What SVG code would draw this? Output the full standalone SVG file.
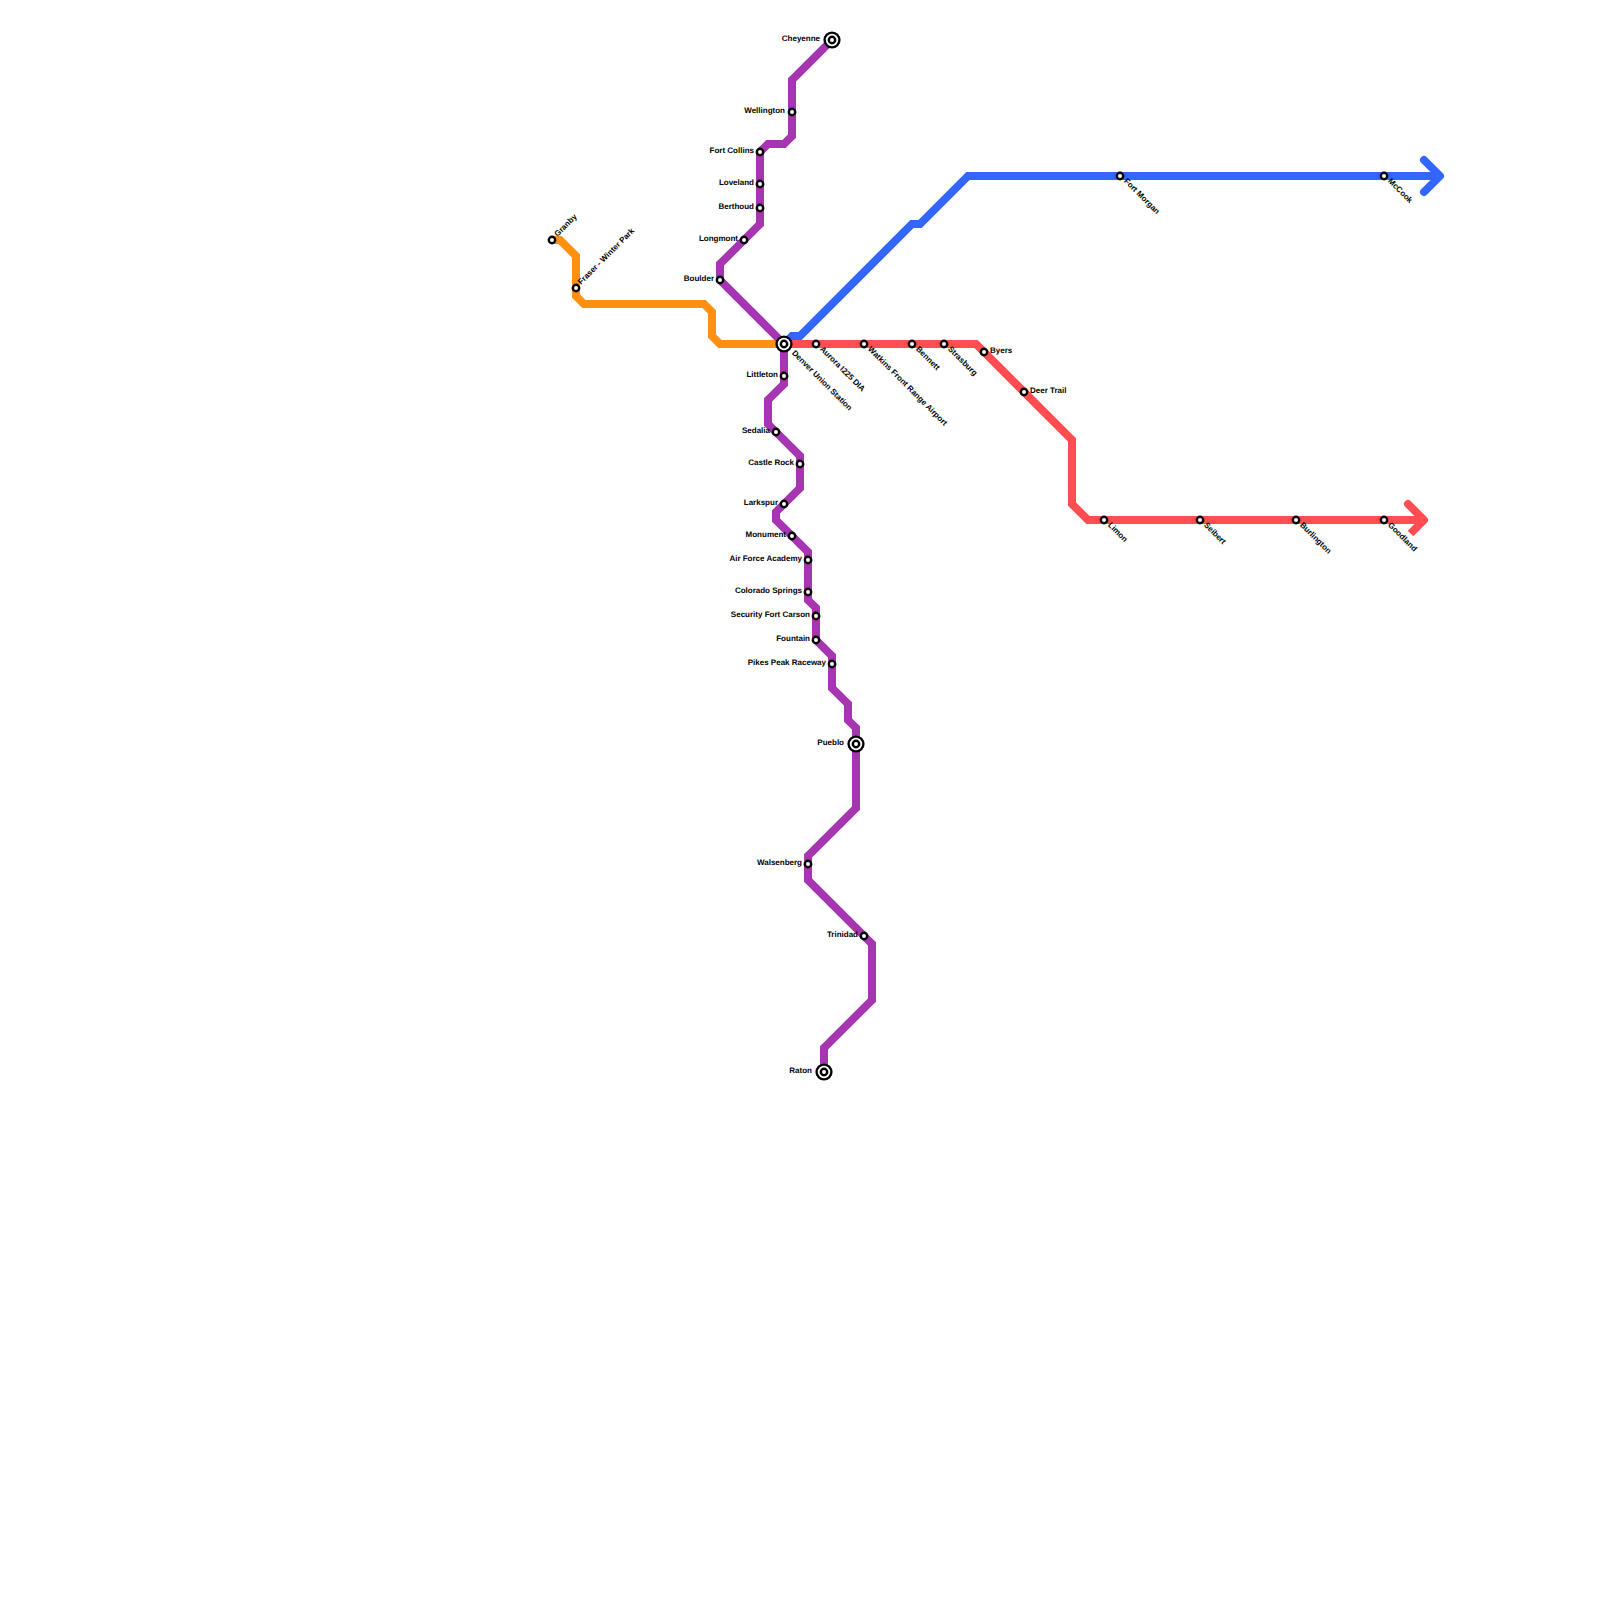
<svg xmlns="http://www.w3.org/2000/svg" width="1600" height="1600" viewBox="0 0 1600 1600">
<style>
text{font-family:"Liberation Sans",Arial,sans-serif;font-size:8px;font-weight:bold;fill:#000;text-rendering:geometricPrecision}
.e{text-anchor:end}
.l{fill:none;stroke-width:8;stroke-linejoin:miter;stroke-linecap:butt}
.a{fill:none;stroke-width:8;stroke-linejoin:round;stroke-linecap:round}
.s{fill:#fff;stroke:#000;stroke-width:2.4}
</style>
<defs>
<circle id="st" class="s" r="3.2"/>
<g id="hub"><circle class="s" r="7.4"/><circle class="s" r="3.2"/></g>
</defs>
<rect width="1600" height="1600" fill="#fff"/>
<g id="connectors">
<path class="l" stroke="#3366ff" d="M784 344L792 336H800L912 224H920L968 176H1436"/>
<path class="a" stroke="#3366ff" d="M1424 160L1440 176L1424 192"/>
<path class="l" stroke="#ff9011" d="M552 240H560L576 256V296L584 304H704L712 312V336L720 344H784"/>
<path class="l" stroke="#a535b0" d="M832 40L792 80V136L784 144H768L760 152V224L720 264V280L784 344"/>
<path class="l" stroke="#a535b0" d="M784 344V384L768 400V424L800 456V488L776 512V520L808 552V600L816 608V640L832 656V688L848 704V720L856 728V808L808 856V880L872 944V1000L824 1048V1072"/>
<path class="l" stroke="#ff4d52" d="M784 344H976L1072 440V504L1088 520H1420"/>
<path class="a" stroke="#ff4d52" d="M1408 504L1424 520"/>
<path class="l" stroke="#ff4d52" d="M1424 520L1410.5 533.5"/>
</g>
<g id="cheyenne"><use href="#hub" x="832" y="40"/><text class="e" x="820" y="41.3">Cheyenne</text></g>
<g id="wellington"><use href="#st" x="792" y="112"/><text class="e" x="785" y="113.3">Wellington</text></g>
<g id="fort-collins"><use href="#st" x="760" y="152"/><text class="e" x="754" y="153.3">Fort Collins</text></g>
<g id="loveland"><use href="#st" x="760" y="184"/><text class="e" x="754" y="185.3">Loveland</text></g>
<g id="berthoud"><use href="#st" x="760" y="208"/><text class="e" x="754" y="209.3">Berthoud</text></g>
<g id="longmont"><use href="#st" x="744" y="240"/><text class="e" x="738" y="241.3">Longmont</text></g>
<g id="boulder"><use href="#st" x="720" y="280"/><text class="e" x="714" y="281.3">Boulder</text></g>
<g id="granby"><use href="#st" x="552" y="240"/><text transform="translate(557.5 237) rotate(-45)">Granby</text></g>
<g id="fraser"><use href="#st" x="576" y="288"/><text transform="translate(581 285) rotate(-45)">Fraser - Winter Park</text></g>
<g id="denver"><use href="#hub" x="784" y="344"/><text transform="translate(791.5 353.5) rotate(45)">Denver Union Station</text></g>
<g id="aurora"><use href="#st" x="816" y="344"/><text transform="translate(819.5 349.5) rotate(45)">Aurora I225 DIA</text></g>
<g id="watkins"><use href="#st" x="864" y="344"/><text transform="translate(867.5 349.5) rotate(45)">Watkins Front Range Airport</text></g>
<g id="bennett"><use href="#st" x="912" y="344"/><text transform="translate(915.5 349.5) rotate(45)">Bennett</text></g>
<g id="strasburg"><use href="#st" x="944" y="344"/><text transform="translate(947.5 349.5) rotate(45)">Strasburg</text></g>
<g id="byers"><use href="#st" x="984" y="352"/><text x="990" y="353.3">Byers</text></g>
<g id="deer-trail"><use href="#st" x="1024" y="392"/><text x="1030" y="393.3">Deer Trail</text></g>
<g id="limon"><use href="#st" x="1104" y="520"/><text transform="translate(1107.5 525.5) rotate(45)">Limon</text></g>
<g id="seibert"><use href="#st" x="1200" y="520"/><text transform="translate(1203.5 525.5) rotate(45)">Seibert</text></g>
<g id="burlington"><use href="#st" x="1296" y="520"/><text transform="translate(1299.5 525.5) rotate(45)">Burlington</text></g>
<g id="goodland"><use href="#st" x="1384" y="520"/><text transform="translate(1387.5 525.5) rotate(45)">Goodland</text></g>
<g id="fort-morgan"><use href="#st" x="1120" y="176"/><text transform="translate(1123.5 181.5) rotate(45)">Fort Morgan</text></g>
<g id="mccook"><use href="#st" x="1384" y="176"/><text transform="translate(1387.5 181.5) rotate(45)">McCook</text></g>
<g id="littleton"><use href="#st" x="784" y="376"/><text class="e" x="778" y="377.3">Littleton</text></g>
<g id="sedalia"><use href="#st" x="776" y="432"/><text class="e" x="770" y="433.3">Sedalia</text></g>
<g id="castle-rock"><use href="#st" x="800" y="464"/><text class="e" x="794" y="465.3">Castle Rock</text></g>
<g id="larkspur"><use href="#st" x="784" y="504"/><text class="e" x="778" y="505.3">Larkspur</text></g>
<g id="monument"><use href="#st" x="792" y="536"/><text class="e" x="786" y="537.3">Monument</text></g>
<g id="air-force-academy"><use href="#st" x="808" y="560"/><text class="e" x="802" y="561.3">Air Force Academy</text></g>
<g id="colorado-springs"><use href="#st" x="808" y="592"/><text class="e" x="802" y="593.3">Colorado Springs</text></g>
<g id="security-fort-carson"><use href="#st" x="816" y="616"/><text class="e" x="810" y="617.3">Security Fort Carson</text></g>
<g id="fountain"><use href="#st" x="816" y="640"/><text class="e" x="810" y="641.3">Fountain</text></g>
<g id="pikes-peak"><use href="#st" x="832" y="664"/><text class="e" x="826" y="665.3">Pikes Peak Raceway</text></g>
<g id="pueblo"><use href="#hub" x="856" y="744"/><text class="e" x="844" y="745.3">Pueblo</text></g>
<g id="walsenberg"><use href="#st" x="808" y="864"/><text class="e" x="802" y="865.3">Walsenberg</text></g>
<g id="trinidad"><use href="#st" x="864" y="936"/><text class="e" x="858" y="937.3">Trinidad</text></g>
<g id="raton"><use href="#hub" x="824" y="1072"/><text class="e" x="812" y="1073.3">Raton</text></g>
</svg>
